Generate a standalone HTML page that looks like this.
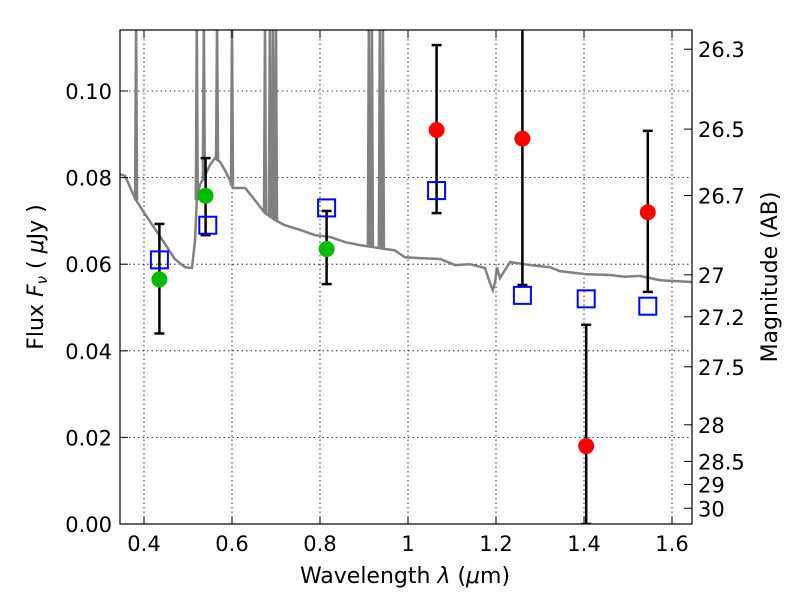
<!DOCTYPE html>
<html><head><meta charset="utf-8"><style>
body{margin:0;background:#fff}
svg text{font-family:"DejaVu Sans","Liberation Sans",sans-serif;fill:#000}
</style></head><body>
<svg id="chart" width="800" height="600" xmlns="http://www.w3.org/2000/svg">
<rect width="800" height="600" fill="#fff"/>
<defs><clipPath id="pc"><rect x="120" y="30" width="572" height="494"/></clipPath></defs>
<g id="grid"></g>
<g id="spec" clip-path="url(#pc)"></g>
<g id="marks" clip-path="url(#pc)"></g>
<rect x="120" y="30" width="572" height="494" fill="none" stroke="#000" stroke-width="1.2"/>
<g id="axes"></g>
<text x="405" y="583" font-size="22" text-anchor="middle">Wavelength  <tspan font-style="italic">λ</tspan> (<tspan font-style="italic">μ</tspan>m)</text>
<text transform="translate(43,277) rotate(-90)" font-size="22" text-anchor="middle">Flux  <tspan font-style="italic">F<tspan font-size="15" dy="4">ν</tspan></tspan><tspan dy="-4">  (  </tspan><tspan font-style="italic">μ</tspan>Jy )</text>
<text transform="translate(777,277) rotate(-90)" font-size="22" text-anchor="middle">Magnitude (AB)</text>
</svg>
<script>
const specWave=[0.345,0.357,0.380,0.402,0.436,0.470,0.493,0.509,0.516,0.520,0.527,0.539,0.550,0.561,0.573,0.584,0.595,0.602,0.611,0.630,0.652,0.675,0.698,0.720,0.755,0.789,0.823,0.857,0.891,0.936,0.970,0.993,1.027,1.073,1.107,1.141,1.175,1.186,1.193,1.198,1.202,1.209,1.220,1.232,1.277,1.323,1.345,1.402,1.459,1.493,1.527,1.573,1.645];
const specFlux=[0.0808,0.0804,0.0751,0.0716,0.0665,0.0612,0.0593,0.0591,0.0655,0.0748,0.0783,0.0806,0.0829,0.0845,0.0836,0.0817,0.0794,0.0776,0.0776,0.0776,0.0748,0.0718,0.0702,0.0690,0.0679,0.0667,0.0663,0.0651,0.0644,0.0637,0.0632,0.0616,0.0614,0.0612,0.0598,0.0600,0.0591,0.0557,0.0540,0.0559,0.0593,0.0568,0.0586,0.0605,0.0598,0.0593,0.0584,0.0577,0.0575,0.0571,0.0573,0.0563,0.0559];
const lineWave=[0.382,0.520,0.536,0.566,0.600,0.675,0.686,0.693,0.700,0.911,0.918,0.936,0.943];
const greenWave=[0.435,0.540,0.815];
const greenFlux=[0.0565,0.0758,0.0635];
const greenLo=[0.044,0.0667,0.0554];
const greenHi=[0.0693,0.0845,0.0723];
const redWave=[1.065,1.260,1.405,1.545];
const redFlux=[0.091,0.089,0.018,0.072];
const redLo=[0.0718,0.0552,0.0,0.0536];
const redHi=[0.1106,0.14,0.046,0.0908];
const modelWave=[0.435,0.545,0.815,1.065,1.260,1.405,1.545];
const modelFlux=[0.061,0.069,0.073,0.077,0.0528,0.052,0.0503];
const xTicks=[0.4,0.6,0.8,1.0,1.2,1.4,1.6];
const xTickLabels=["0.4","0.6","0.8","1","1.2","1.4","1.6"];
const yTicks=[0,0.02,0.04,0.06,0.08,0.10];
const yTickLabels=["0.00","0.02","0.04","0.06","0.08","0.10"];
const magTicks=[26.3,26.5,26.7,27,27.2,27.5,28,28.5,29,30];

const NS="http://www.w3.org/2000/svg";
const X=v=>144+(v-0.4)*440;
const Y=v=>524-v*4330;
function mk(tag,attrs,parent){const e=document.createElementNS(NS,tag);for(const k in attrs)e.setAttribute(k,attrs[k]);parent.appendChild(e);return e;}
const grid=document.getElementById('grid'),axes=document.getElementById('axes'),spec=document.getElementById('spec'),marks=document.getElementById('marks');

xTicks.forEach((t,i)=>{
  const x=X(t);
  const g=mk('line',{x1:x,x2:x,y1:30,y2:524,stroke:'#000','stroke-dasharray':'1.5,3','stroke-width':0.8},grid);
  
  
  mk('line',{x1:x,x2:x,y1:524,y2:516,stroke:'#000'},axes);
  mk('line',{x1:x,x2:x,y1:30,y2:38,stroke:'#000'},axes);
  const l=mk('text',{x:x,y:551,'font-size':21,'text-anchor':'middle'},axes);
  l.textContent=xTickLabels[i];
  
  
});
yTicks.forEach((t,i)=>{
  const y=Y(t);
  const g=mk('line',{x1:120,x2:692,y1:y,y2:y,stroke:'#000','stroke-dasharray':'1.5,3','stroke-width':0.8},grid);
  
  
  mk('line',{x1:120,x2:128,y1:y,y2:y,stroke:'#000'},axes);
  const l=mk('text',{x:112,y:y+8,'font-size':21,'text-anchor':'end'},axes);
  l.textContent=yTickLabels[i];
  
  
});
magTicks.forEach(m=>{
  const f=Math.pow(10,(23.9-m)/2.5);
  const y=Y(f);
  mk('line',{x1:684,x2:692,y1:y,y2:y,stroke:'#000'},axes);
  const l=mk('text',{x:698,y:y+8,'font-size':21},axes);
  l.textContent=String(m);
  
  
});

function interp(w){for(let i=1;i<specWave.length;i++){if(w<=specWave[i]){const t=(w-specWave[i-1])/(specWave[i]-specWave[i-1]);return specFlux[i-1]+t*(specFlux[i]-specFlux[i-1]);}}return specFlux[specFlux.length-1];}
const pl=mk('polyline',{points:specWave.map((w,i)=>X(w)+','+Y(specFlux[i])).join(' '),fill:'none',stroke:'#808080','stroke-width':2.5},spec);


lineWave.forEach(w=>{
  const s=mk('polyline',{points:(X(w)-1)+','+Y(interp(w))+' '+X(w)+','+20+' '+(X(w)+1)+','+Y(interp(w)),fill:'none',stroke:'#808080','stroke-width':2.5},spec);
  
  
});

function errbar(w,lo,hi){
  const x=X(w);
  mk('line',{x1:x,x2:x,y1:Y(lo),y2:Y(hi),stroke:'#000','stroke-width':2.5},marks);
  mk('line',{x1:x-5,x2:x+5,y1:Y(lo),y2:Y(lo),stroke:'#000','stroke-width':2.5},marks);
  mk('line',{x1:x-5,x2:x+5,y1:Y(hi),y2:Y(hi),stroke:'#000','stroke-width':2.5},marks);
}
greenWave.forEach((w,i)=>errbar(w,greenLo[i],greenHi[i]));
redWave.forEach((w,i)=>errbar(w,redLo[i],redHi[i]));
modelWave.forEach((w,i)=>{
  const r=mk('rect',{x:X(w)-8.5,y:Y(modelFlux[i])-8.5,width:17,height:17,fill:'none',stroke:'#0000ff','stroke-width':2},marks);
  
  
});
greenWave.forEach((w,i)=>{
  const c=mk('circle',{cx:X(w),cy:Y(greenFlux[i]),r:8,fill:'#00bb00'},marks);
  
  
});
redWave.forEach((w,i)=>{
  const c=mk('circle',{cx:X(w),cy:Y(redFlux[i]),r:8,fill:'#ff0000'},marks);
  
  
});
</script>
</body></html>
